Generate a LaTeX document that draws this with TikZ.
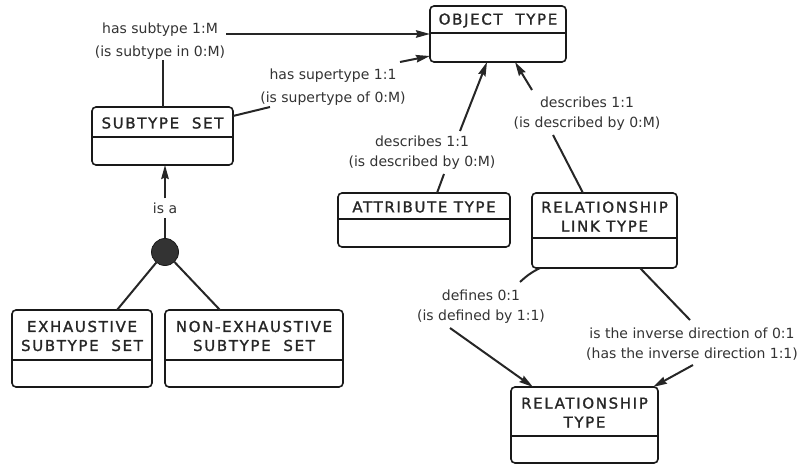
\documentclass[tikz,border=0pt]{standalone}
\usepackage{fontspec}
\setmainfont{DejaVu Sans}
\newfontfamily\titlefont[LetterSpace=11,FakeBold=1.4]{DejaVu Sans}
\usetikzlibrary{arrows.meta}
\tikzset{
  x=1pt, y=-1pt,
  boxline/.style={line width=1.6pt, draw=black!90},
  ebox/.style={draw=black!90, line width=1.6pt, rounded corners=4pt, inner sep=0pt, outer sep=0pt},
  ttl/.style={font=\titlefont\fontsize{15}{19}\selectfont, align=center, inner sep=0pt, text=black!85},
  lbl/.style={font=\fontsize{14}{20}\selectfont, align=center, inner sep=1pt, text=black!80},
  widelbl/.style={lbl, font=\fontsize{14}{23}\selectfont},
  conn/.style={line width=2pt, draw=black!85},
  arr/.style={conn, -{Stealth[length=14pt,width=7.5pt,inset=1.5pt]}},
}
% entity box: name, x1, y1, x2, y2, divider y, title
\newcommand\entity[7]{%
  \node[ebox, minimum width={#4-#2}, minimum height={#5-#3}] (#1) at ({(#2+#4)/2},{(#3+#5)/2}) {};
  \draw[boxline] (#1.west |- 0,#6) -- (#1.east |- 0,#6);
  \node[ttl] (#1-t) at ({(#2+#4)/2},{(#3+#6)/2+1}) {#7};
}
\begin{document}
\begin{tikzpicture}
\useasboundingbox (0,0) rectangle (800,465);

% entities
\entity{ot}{430}{6}{566}{62}{33}{OBJECT\ \ TYPE}
\entity{ss}{92}{107}{233}{165}{137}{SUBTYPE\ \ SET}
\entity{at}{338}{193}{510}{247}{219}{ATTRIBUTE\ TYPE}
\entity{rlt}{532}{193}{677}{268}{238}{RELATIONSHIP\\LINK\ TYPE}
\entity{rt}{511}{387}{658}{463}{436}{RELATIONSHIP\\TYPE}
\entity{ex}{12}{310}{152}{387}{360}{EXHAUSTIVE\\SUBTYPE\ \ SET}
\entity{nex}{165}{310}{343}{387}{360}{NON-EXHAUSTIVE\\SUBTYPE\ \ SET}

% relationship labels
\node[widelbl] (lsub) at (160,41) {has subtype 1:M\\(is subtype in 0:M)};
\node[widelbl] (lsup) at (333,87) {has supertype 1:1\\(is supertype of 0:M)};
\node[lbl] (latt) at (422,153) {describes 1:1\\(is described by 0:M)};
\node[lbl] (lrlt) at (587,114) {describes 1:1\\(is described by 0:M)};
\node[lbl] (ldef) at (481,307) {defines 0:1\\(is defined by 1:1)};
\node[lbl] (linv) at (692,344) {is the inverse direction of 0:1\\(has the inverse direction 1:1)};
\node[lbl, inner sep=4pt] (isa) at (165,208) {is a};

% has subtype
\draw[conn] (ss.north) -- (ss.north |- lsub.south);
\draw[arr] (lsub.east |- 0,34) -- (ot.west |- 0,34);

% has supertype
\coordinate (sup1) at (270,107);
\coordinate (sup2) at (400,62);
\draw[conn] (ss.east |- 0,116) -- (sup1);
\draw[arr] (sup2) -- (ot.west |- 0,56);

% attribute type describes object type
\coordinate (d1) at (444,174);
\coordinate (d2) at (460,131);
\draw[conn] (at.north -| 437,0) -- (d1);
\draw[arr] (d2) -- (ot.south -| 487,0);

% relationship link type describes object type
\coordinate (e1) at (553,135);
\coordinate (e2) at (532,90);
\draw[conn] (rlt.north -| 583,0) -- (e1);
\draw[arr] (e2) -- (ot.south -| 515,0);

% defines
\coordinate (f1) at (520,282);
\coordinate (f2) at (450,328);
\draw[conn] (rlt.south -| 540,0) to[bend right=8] (f1);
\draw[arr] (f2) -- (rt.north -| 533,0);

% inverse direction
\coordinate (g1) at (690,320);
\coordinate (g2) at (693,365);
\draw[conn] (rlt.south -| 640,0) -- (g1);
\draw[arr] (g2) -- (rt.north -| 653,0);

% subtype hierarchy
\node[circle, fill=black!80, draw=black!90, line width=0.8pt, minimum size=27pt, inner sep=0pt] (dot) at (165,252) {};
\draw[conn] (dot) -- (isa.south);
\draw[arr] (isa.north) -- (ss.south -| 165,0);
\draw[conn] (dot) -- (ex.north -| 117,0);
\draw[conn] (dot) -- (nex.north -| 220,0);
\end{tikzpicture}
\end{document}
